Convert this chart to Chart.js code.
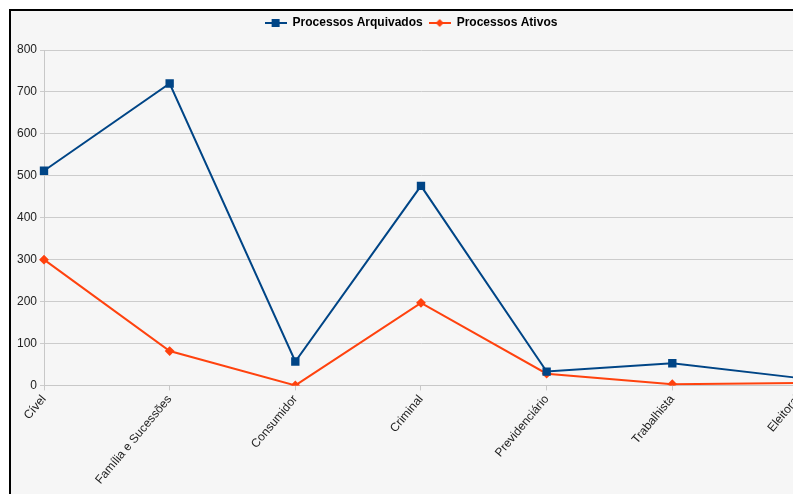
<!DOCTYPE html>
<html>
<head>
<meta charset="utf-8">
<script src="https://cdn.jsdelivr.net/npm/chart.js@4.4.1/dist/chart.umd.min.js"></script>
<style>
  html, body { margin: 0; padding: 0; background: #fff; overflow: hidden; width: 793px; height: 494px; }
  #frame {
    position: absolute; left: 9px; top: 9px;
    border-left: 2px solid #000; border-top: 2px solid #000;
    background: #f6f6f6; width: 820px; height: 500px;
  }
</style>
</head>
<body>
<div id="frame"><canvas id="chart" width="800" height="478"></canvas></div>
<script>
// Categories and values
const categories = ['Cível', 'Família e Sucessões', 'Consumidor', 'Criminal', 'Previdenciário', 'Trabalhista', 'Eleitoral'];
const arquivados = [512, 720, 57, 476, 33, 53, 18];
const ativos = [300, 82, 0, 197, 28, 3, 6];
const yTicks = [0, 100, 200, 300, 400, 500, 600, 700, 800];

const blue = '#004586';
const red = '#ff420e';

// legend symbol: short line with the marker in the middle
function legendIcon(color, shape) {
  const c = document.createElement('canvas');
  c.width = 22; c.height = 10;
  const g = c.getContext('2d');
  g.strokeStyle = color; g.lineWidth = 2;
  g.beginPath(); g.moveTo(0, 5); g.lineTo(22, 5); g.stroke();
  g.fillStyle = color;
  if (shape === 'square') {
    g.fillRect(7, 1, 8, 8);
  } else {
    g.beginPath(); g.moveTo(11, 1); g.lineTo(15, 5); g.lineTo(11, 9); g.lineTo(7, 5); g.closePath(); g.fill();
  }
  return c;
}
const icons = [legendIcon(blue, 'square'), legendIcon(red, 'diamond')];

// extra room between legend and plot
const legendGap = {
  id: 'legendGap',
  afterInit(chart) {
    const fit = chart.legend.fit;
    chart.legend.fit = function () {
      fit.call(this);
      this.height += 11;
    };
  }
};

Chart.defaults.font.family = '"Liberation Sans", Arial, sans-serif';

new Chart(document.getElementById('chart').getContext('2d'), {
  type: 'line',
  data: {
    labels: categories,
    datasets: [
      {
        label: 'Processos Arquivados',
        data: arquivados,
        borderColor: blue,
        backgroundColor: blue,
        borderWidth: 2,
        pointStyle: 'rect',
        pointRadius: 4.5,
        tension: 0
      },
      {
        label: 'Processos Ativos',
        data: ativos,
        borderColor: red,
        backgroundColor: red,
        borderWidth: 2,
        pointStyle: 'rectRot',
        pointRadius: 3.5,
        tension: 0
      }
    ]
  },
  plugins: [legendGap],
  options: {
    responsive: false,
    devicePixelRatio: 1,
    animation: false,
    layout: { padding: 0 },
    plugins: {
      tooltip: { enabled: false },
      legend: {
        position: 'top',
        labels: {
          color: '#000',
          font: { size: 12, weight: 'bold' },
          usePointStyle: true,
          pointStyleWidth: 22,
          padding: 6,
          generateLabels: chart => chart.data.datasets.map((ds, i) => ({
            text: ds.label,
            pointStyle: icons[i],
            fillStyle: ds.borderColor,
            strokeStyle: ds.borderColor,
            lineWidth: 0,
            fontColor: '#000',
            datasetIndex: i
          }))
        }
      }
    },
    scales: {
      x: {
        offset: false,
        grid: { drawOnChartArea: false, drawTicks: true, tickLength: 5, color: '#c8c8c8' },
        border: { color: '#c8c8c8' },
        ticks: { color: '#222', font: { size: 12 }, minRotation: 50, maxRotation: 50, padding: 2, autoSkip: false }
      },
      y: {
        min: 0,
        max: 800,
        afterBuildTicks: axis => { axis.ticks = yTicks.map(v => ({ value: v })); },
        afterFit: axis => { axis.width = 33; },
        grid: { color: '#cccccc', tickLength: 4 },
        border: { color: '#c8c8c8' },
        ticks: { color: '#222', font: { size: 12 }, padding: 3 }
      }
    }
  }
});
</script>
</body>
</html>
